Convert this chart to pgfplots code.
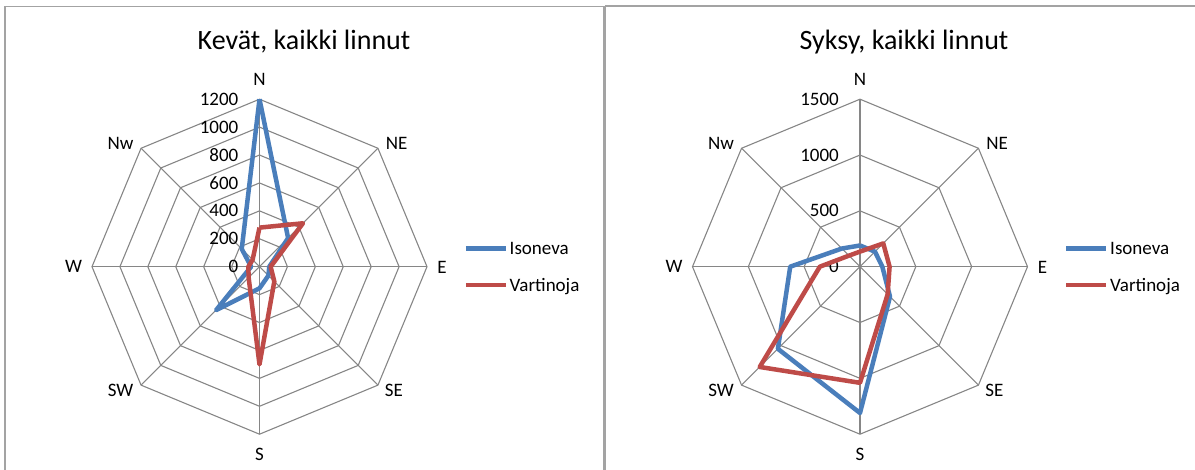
\documentclass[border=0pt]{standalone}
\usepackage{pgfplots}
\pgfplotsset{compat=1.18}
\usepackage{pgfplotstable}
\usepackage{fontspec}
\setmainfont{Carlito}

\definecolor{isoblue}{HTML}{4A7EBB}
\definecolor{varred}{HTML}{BE4B48}
\definecolor{gridgray}{HTML}{868686}
\definecolor{framegray}{HTML}{A3A3A3}

\newcommand{\lblfont}{\fontsize{19}{23}\selectfont}
\newcommand{\ttlfont}{\fontsize{28}{34}\selectfont}

% spring counts by direction (angle in degrees, N at the top, clockwise)
\pgfplotstableread{
dir angle isoneva vartinoja
N   90    1200 280
NE  45    290  440
E   0     70   80
SE  -45   90   150
S   -90   155  700
SW  -135  440  110
W   180   60   80
Nw  135   180  70
N   90    1200 280
}\kevat

% autumn counts by direction
\pgfplotstableread{
dir angle isoneva vartinoja
N   90    190  135
NE  45    190  295
E   0     200  265
SE  -45   380  350
S   -90   1310 1040
SW  -135  1040 1270
W   180   625  360
Nw  135   230  140
N   90    190  135
}\syksy

\pgfplotsset{
  radar/.style={
    hide axis, clip=false, scale only axis,
    width=335pt, height=335pt, anchor=center,
    legend cell align=left,
    legend style={at={(1.109,0.5)}, anchor=west, draw=none, fill=none,
      inner sep=0pt, row sep=21.5pt, font=\lblfont,
      nodes={inner sep=1.5pt, text height=12.2pt, text depth=0pt}},
    legend image code/.code={\draw[##1, line width=4.5pt, line cap=butt] (0pt,0pt) -- (40pt,0pt);},
  },
  ring/.style={gridgray, line width=1.1pt, data cs=polar, forget plot},
  series/.style={line width=4.5pt, line join=round, data cs=polar},
}

\newcommand{\dirlabels}{%
  \node[font=\lblfont, inner sep=0pt, xshift=0pt,      yshift=187.5pt]  at (axis cs:0,0) {N};
  \node[font=\lblfont, inner sep=0pt, xshift=137.2pt,  yshift=123.7pt]  at (axis cs:0,0) {NE};
  \node[font=\lblfont, inner sep=0pt, xshift=182.5pt,  yshift=-0.5pt]   at (axis cs:0,0) {E};
  \node[font=\lblfont, inner sep=0pt, xshift=134.3pt,  yshift=-123.3pt] at (axis cs:0,0) {SE};
  \node[font=\lblfont, inner sep=0pt, xshift=0pt,      yshift=-187.8pt] at (axis cs:0,0) {S};
  \node[font=\lblfont, inner sep=0pt, xshift=-138.9pt, yshift=-123.3pt] at (axis cs:0,0) {SW};
  \node[font=\lblfont, inner sep=0pt, xshift=-186pt,   yshift=0pt]      at (axis cs:0,0) {W};
  \node[font=\lblfont, inner sep=0pt, xshift=-138.9pt, yshift=123.7pt]  at (axis cs:0,0) {Nw};
}

\begin{document}
\begin{tikzpicture}[x=1pt, y=1pt]
\useasboundingbox (0,0) rectangle (1195,-470);

% panel frames
\draw[framegray, line width=1.4pt] (4.8,-472) -- (4.8,-6.7) -- (604,-6.7) -- (604,-472);
\draw[framegray, line width=1.4pt] (605.6,-472) -- (605.6,-6.2) -- (1197,-6.2);

% titles
\node[anchor=base, font=\ttlfont] at (304,-49.3) {Kevät, kaikki linnut};
\node[anchor=base, font=\ttlfont] at (904,-49.3) {Syksy, kaikki linnut};

% spring
\begin{axis}[radar, at={(259.5pt,-266.7pt)},
  xmin=-1200, xmax=1200, ymin=-1200, ymax=1200]
  \pgfplotsinvokeforeach{200,400,600,800,1000,1200}{
    \addplot[ring] coordinates {(0,#1) (45,#1) (90,#1) (135,#1) (180,#1) (225,#1) (270,#1) (315,#1) (360,#1)};
  }
  \pgfplotsinvokeforeach{0,45,90,135,180,225,270,315}{
    \addplot[ring] coordinates {(#1,0) (#1,1200)};
  }
  \pgfplotsinvokeforeach{0,200,400,600,800,1000,1200}{
    \node[font=\lblfont, anchor=east, inner sep=0pt, xshift=-21pt] at (axis cs:0,#1) {#1};
  }
  \dirlabels
  \addplot[series, isoblue] table[x=angle, y=isoneva] {\kevat};
  \addplot[series, varred] table[x=angle, y=vartinoja] {\kevat};
  \legend{Isoneva, Vartinoja}
\end{axis}

% autumn
\begin{axis}[radar, at={(860pt,-266.7pt)},
  xmin=-1500, xmax=1500, ymin=-1500, ymax=1500]
  \pgfplotsinvokeforeach{500,1000,1500}{
    \addplot[ring] coordinates {(0,#1) (45,#1) (90,#1) (135,#1) (180,#1) (225,#1) (270,#1) (315,#1) (360,#1)};
  }
  \pgfplotsinvokeforeach{0,45,90,135,180,225,270,315}{
    \addplot[ring] coordinates {(#1,0) (#1,1500)};
  }
  \pgfplotsinvokeforeach{0,500,1000,1500}{
    \node[font=\lblfont, anchor=east, inner sep=0pt, xshift=-21pt] at (axis cs:0,#1) {#1};
  }
  \dirlabels
  \addplot[series, isoblue] table[x=angle, y=isoneva] {\syksy};
  \addplot[series, varred] table[x=angle, y=vartinoja] {\syksy};
  \legend{Isoneva, Vartinoja}
\end{axis}
\end{tikzpicture}
\end{document}
